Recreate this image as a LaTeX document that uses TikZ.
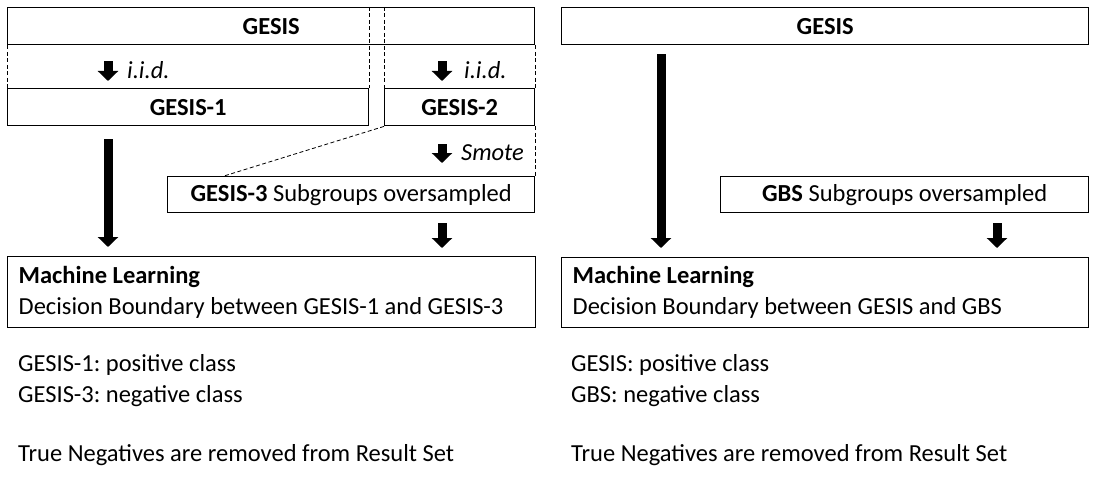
\documentclass[tikz,border=0pt]{standalone}
\usepackage{fontspec}
\setmainfont{Carlito}
\usetikzlibrary{arrows.meta}
\frenchspacing

\begin{document}
\begin{tikzpicture}[x=1pt,y=1pt,
  every node/.style={font=\fontsize{24.5}{31}\selectfont},
  box/.style={draw,line width=1.4pt,inner sep=0pt,anchor=north west},
  mlbox/.style={box,align=flush left,inner xsep=11pt},
  dashline/.style={line width=0.8pt,dash pattern=on 4pt off 2.5pt},
  blockarrow/.style={line width=9pt,-{Triangle[width=20pt,length=10pt]}},
  plain/.style={inner sep=0pt,align=flush left,anchor=west}]
\useasboundingbox (0,0) rectangle (1100,-495);
\coordinate (colA) at (108,0);
\coordinate (colB) at (442,0);
\coordinate (colC) at (661,0);
\coordinate (colD) at (997,0);
% left
\node [box,minimum width=527pt,minimum height=37pt] (gesisL) at (7,-7) {\textbf{GESIS}};
\node [box,minimum width=361pt,minimum height=37pt] (gesisA) at (7,-88) {\textbf{GESIS-1}};
\node [box,minimum width=150pt,minimum height=37pt] (gesisB) at (384,-88) {\textbf{GESIS-2}};
\node [box,minimum width=367pt,minimum height=36pt] (gesisC) at (167,-176) {\textbf{GESIS-3} Subgroups oversampled};
\node [mlbox,text width=506pt,minimum height=71pt] (mlL) at (7,-256) {\textbf{Machine Learning}\\Decision Boundary between GESIS-1 and GESIS-3};
\draw [dashline] (gesisA.north east |- gesisL.north) -- (gesisA.north east);
\draw [dashline] (gesisB.north west |- gesisL.north) -- (gesisB.north west);
\draw [dashline] (gesisL.south west) -- (gesisA.north west);
\draw [dashline] (gesisL.south east) -- (gesisB.north east);
\draw [dashline] (gesisB.south west) -- ([xshift=57pt]gesisC.north west);
\draw [dashline] (gesisB.south east) -- (gesisC.north east);
\draw [blockarrow,shorten <=16pt,shorten >=7pt] (gesisL.south -| colA) -- (gesisA.north -| colA);
\draw [blockarrow,shorten <=16pt,shorten >=7pt] (gesisL.south -| colB) -- (gesisB.north -| colB);
\draw [blockarrow,shorten <=18pt,shorten >=13pt] (gesisB.south -| colB) -- (gesisC.north -| colB);
\draw [blockarrow,shorten <=10pt,shorten >=8pt] (gesisC.south -| colB) -- (mlL.north -| colB);
\draw [blockarrow,shorten <=13pt,shorten >=9pt] (gesisA.south -| colA) -- (mlL.north -| colA);
\node [plain] (iidA) at (127,-70) {\textit{i.i.d.}};
\node [plain] (iidB) at (464,-70) {\textit{i.i.d.}};
\node [plain] (smote) at (461,-153) {\textit{Smote}};
\node [plain] (classL) at (18,-381) {GESIS-1: positive class\\GESIS-3: negative class};
\node [plain] (noteL) at (18,-455) {True Negatives are removed from Result Set};
% right
\node [box,minimum width=527pt,minimum height=37pt] (gesisR) at (561,-7) {\textbf{GESIS}};
\node [box,minimum width=368pt,minimum height=36pt] (gbs) at (720,-176) {\textbf{GBS} Subgroups oversampled};
\node [mlbox,text width=505pt,minimum height=70pt] (mlR) at (561,-257) {\textbf{Machine Learning}\\Decision Boundary between GESIS and GBS};
\draw [blockarrow,shorten <=9pt,shorten >=9pt] (gesisR.south -| colC) -- (mlR.north -| colC);
\draw [blockarrow,shorten <=10pt,shorten >=9pt] (gbs.south -| colD) -- (mlR.north -| colD);
\node [plain] (classR) at (571,-381) {GESIS: positive class\\GBS: negative class};
\node [plain] (noteR) at (571,-455) {True Negatives are removed from Result Set};
\end{tikzpicture}
\end{document}
